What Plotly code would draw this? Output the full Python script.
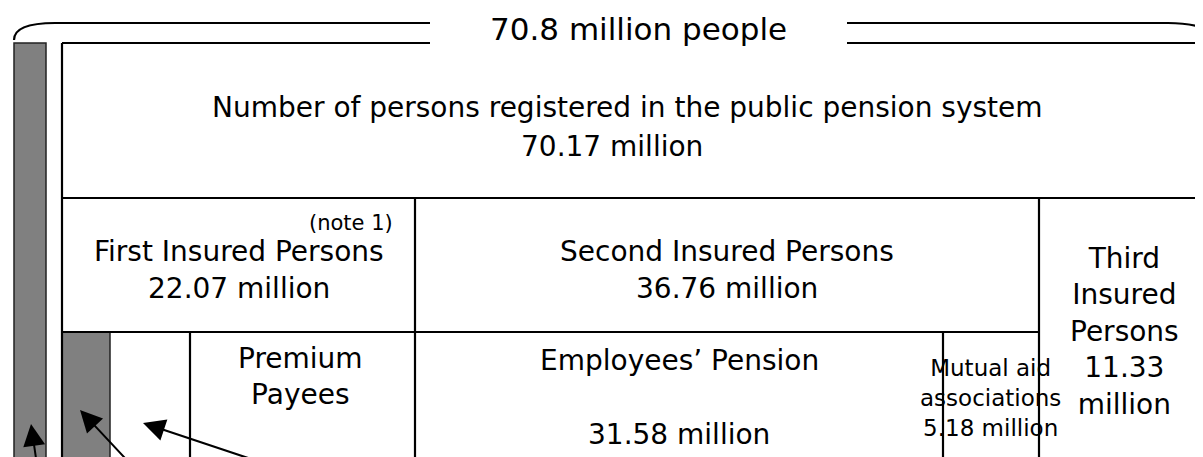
import plotly.graph_objects as go

# ---------------- data ----------------
total_label = "70.8 million people"
registered_label = "Number of persons registered in the public pension system"
registered_value = 70.17
categories = ["First Insured Persons", "Second Insured Persons", "Third Insured Persons"]
category_values = [22.07, 36.76, 11.33]
first_sub = ["Premium Payees"]
second_sub = ["Employees’ Pension", "Mutual aid associations"]
second_sub_values = [31.58, 5.18]
note_label = "(note 1)"

W, H = 1203, 457
OFF = 8  # page body margin compensation
FONT = "DejaVu Sans"
BLACK = "#000000"
GRAY = "#808080"

fig = go.Figure()
fig.add_trace(go.Scatter(x=[0, W], y=[0, H], mode="markers",
                         marker=dict(opacity=0), hoverinfo="skip", showlegend=False))

shapes = []
def line(x0, y0, x1, y1, w=2.2):
    shapes.append(dict(type="line", x0=x0, y0=y0, x1=x1, y1=y1,
                       xref="x", yref="y", line=dict(color=BLACK, width=w)))

def rect(x0, y0, x1, y1, fill):
    shapes.append(dict(type="rect", x0=x0, y0=y0, x1=x1, y1=y1, xref="x", yref="y",
                       fillcolor=fill, line=dict(color="#222222", width=1.5)))

# gray bars
rect(14, 43, 46, H + 20, GRAY)
rect(62, 332, 110, H + 20, GRAY)

# brace on top
shapes.append(dict(type="path", path="M 14 40 Q 14 23 55 23 L 430 23",
                   xref="x", yref="y", line=dict(color=BLACK, width=2.2)))
shapes.append(dict(type="path", path="M 847 23 L 1168 23 Q 1200 23 1215 34",
                   xref="x", yref="y", line=dict(color=BLACK, width=2.2)))

# main box
line(62, 43, 430, 43)
line(847, 43, W + 20, 43)
line(62, 43, 62, H + 20)
line(62, 198, W + 20, 198)
line(415, 198, 415, H + 20)
line(1039, 198, 1039, H + 20)
line(62, 332, 1039, 332)
line(190, 332, 190, H + 20)
line(943, 332, 943, H + 20)

annotations = []
def txt(x, y, text, size=28):
    annotations.append(dict(x=x, y=y, xref="x", yref="y", text=text, showarrow=False,
                            xanchor="center", yanchor="middle",
                            font=dict(family=FONT, size=size, color=BLACK)))

txt(638, 29, total_label, 31)
txt(627, 107, registered_label)
txt(612, 146, f"{registered_value:.2f} million")
txt(239, 251, categories[0])
txt(239, 288, f"{category_values[0]:.2f} million")
txt(351, 223, note_label, 21)
txt(727, 251, categories[1])
txt(727, 288, f"{category_values[1]:.2f} million")
third_words = categories[2].split(" ")
txt(1124, 331, "<br>".join(third_words + [f"{category_values[2]:.2f}", "million"]))
txt(300, 376, first_sub[0].replace(" ", "<br>"))
txt(679, 360, second_sub[0])
txt(679, 434, f"{second_sub_values[0]:.2f} million")
mw = second_sub[1].split(" ")
txt(990, 398, "<br>".join([" ".join(mw[:2]), mw[2], f"{second_sub_values[1]:.2f} million"]), 23)

# arrows
def arrow(x, y, ax, ay):
    annotations.append(dict(x=x, y=y, ax=ax, ay=ay, xref="x", yref="y", axref="x", ayref="y",
                            text="", showarrow=True, arrowhead=2, arrowsize=2.2,
                            arrowwidth=2, arrowcolor=BLACK, standoff=0))

arrow(31, 424, 38, H + 15)
arrow(80, 410, 138, H + 15)
arrow(143, 423, 290, H + 15)

fig.update_layout(
    width=W, height=H, margin=dict(l=0, r=0, t=0, b=0),
    paper_bgcolor="white", plot_bgcolor="white",
    xaxis=dict(range=[OFF, W + OFF], visible=False, fixedrange=True),
    yaxis=dict(range=[H + OFF, OFF], visible=False, fixedrange=True),
    shapes=shapes, annotations=annotations, showlegend=False,
)
fig.write_html("out.html")
